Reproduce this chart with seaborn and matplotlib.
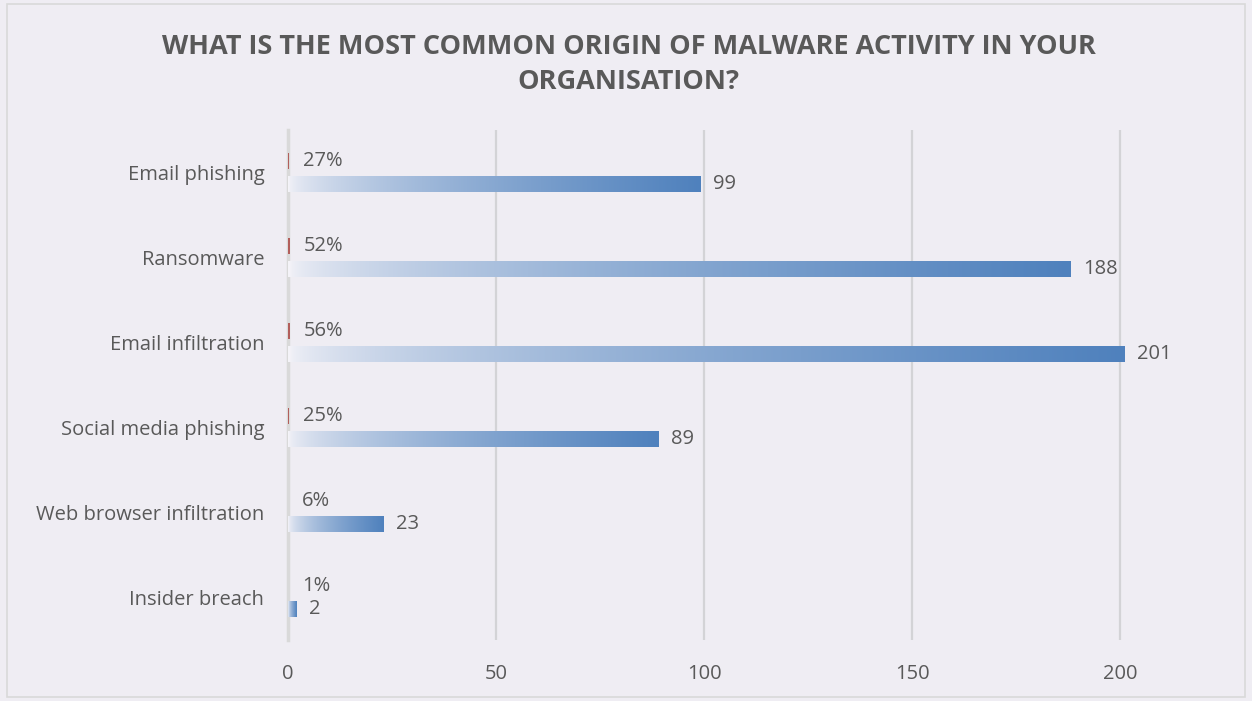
import numpy as np
import pandas as pd
import matplotlib
matplotlib.use("Agg")
import matplotlib.pyplot as plt
from matplotlib.patches import Rectangle
from matplotlib.colors import to_rgb
import seaborn as sns

categories = ["Email phishing", "Ransomware", "Email infiltration",
              "Social media phishing", "Web browser infiltration", "Insider breach"]
counts = [99, 188, 201, 89, 23, 2]
shares = [0.27, 0.52, 0.56, 0.25, 0.06, 0.01]
share_labels = ["27%", "52%", "56%", "25%", "6%", "1%"]
x_ticks = [0, 50, 100, 150, 200]
title = "WHAT IS THE MOST COMMON ORIGIN OF MALWARE ACTIVITY IN YOUR\nORGANISATION?"

BG = "#EFEDF3"
BLUE = "#4F81BD"
RED = "#C0504D"
TEXT = "#595959"

sns.set_theme(style="white")
plt.rcParams["font.family"] = ["Open Sans", "DejaVu Sans"]

df = pd.DataFrame({
    "category": categories * 2,
    "series": ["share"] * len(categories) + ["count"] * len(categories),
    "value": shares + counts,
})

fig = plt.figure(figsize=(12.52, 7.01), dpi=100, facecolor=BG)
ax = fig.add_axes([0.23, 0.087, 0.748, 0.7275])
ax.set_facecolor(BG)

sns.barplot(data=df, y="category", x="value", hue="series",
            hue_order=["share", "count"], palette={"share": RED, "count": BLUE},
            orient="h", width=0.54, gap=0.33, legend=False, ax=ax,
            order=categories, errorbar=None, linewidth=0)

share_bars, count_bars = ax.containers[0], ax.containers[1]
for patch in share_bars:
    patch.set_zorder(4)
    patch.set_edgecolor("none")
    patch.set_linewidth(0)

# gradient fill for the count bars: pale on the left, full blue at the end
c0 = np.array(to_rgb("#F4F3F8"))
c1 = np.array(to_rgb(BLUE))
for patch in count_bars:
    x0, y0 = patch.get_x(), patch.get_y()
    w, h = patch.get_width(), patch.get_height()
    t = np.linspace(0, 1, 256) ** 0.6
    grad = (c0[None, :] * (1 - t[:, None]) + c1[None, :] * t[:, None])[None, :, :]
    im = ax.imshow(grad, extent=[x0, x0 + w, y0 + h, y0], aspect="auto",
                   interpolation="bilinear", zorder=3)
    im.set_clip_path(patch)
    patch.set_facecolor("none")
    patch.set_edgecolor("none")

ax.bar_label(share_bars, labels=share_labels, padding=10, fontsize=14.5, color=TEXT)
ax.bar_label(count_bars, labels=[str(v) for v in counts], padding=9,
             fontsize=14.5, color=TEXT)

ax.set_xlim(0, 225)
ax.set_ylim(5.5, -0.5)
ax.set_xticks(x_ticks)
ax.set_xticklabels([str(v) for v in x_ticks])
ax.xaxis.grid(True, color="#D3D3D6", linewidth=1.6)
ax.set_axisbelow(True)
for s in ["top", "right", "bottom"]:
    ax.spines[s].set_visible(False)
ax.spines["left"].set_color("#D9D9D9")
ax.spines["left"].set_linewidth(2.5)
ax.spines["left"].set_zorder(2)
ax.tick_params(axis="x", length=0, pad=17, labelsize=14.5, labelcolor=TEXT)
ax.tick_params(axis="y", length=0, pad=17, labelsize=14.5, labelcolor=TEXT)
ax.set_xlabel("")
ax.set_ylabel("")

fig.text(0.502, 0.952, title, ha="center", va="top", fontsize=19.5,
         fontweight="bold", color=TEXT, linespacing=1.45)

fig.patches.append(Rectangle((0.0056, 0.006), 0.989, 0.988, transform=fig.transFigure,
                             fill=False, edgecolor="#D9D9D9", linewidth=1.2))

fig.savefig("out.png", dpi=100, facecolor=BG)
